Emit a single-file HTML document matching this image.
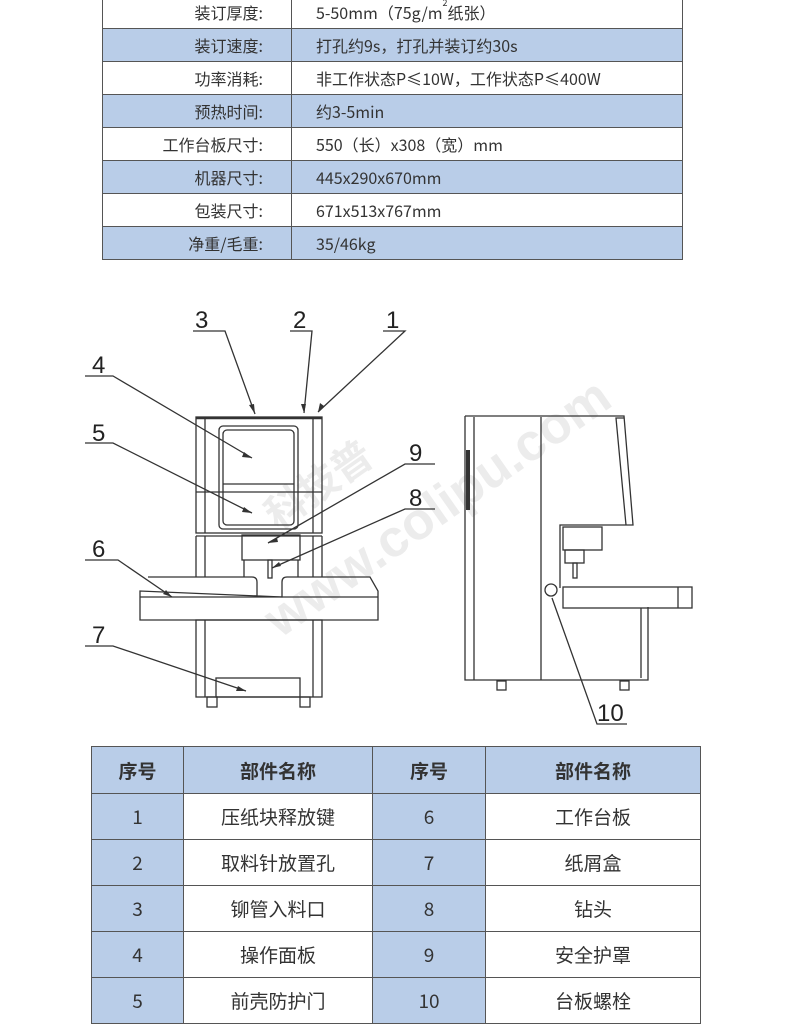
<!DOCTYPE html>
<html><head><meta charset="utf-8"><style>
body{margin:0;width:790px;height:1000px;overflow:hidden;background:#fff;position:relative;font-family:"Noto Sans CJK SC","Liberation Sans",sans-serif;color:#333}
.t{position:absolute;border-collapse:collapse;table-layout:fixed}
.t td{border:1px solid #555;padding:0;line-height:1}
.top td{font-size:16px;height:32px}
.top td.l{text-align:right;padding-right:28px;width:160px}
.top td.r{padding-left:24px}
.b{background:#b9cde8}
.bot td{font-size:19px;text-align:center;height:45px}
sup{font-size:9px;line-height:0;position:relative;top:-1px;vertical-align:top}
svg{position:absolute;left:0;top:0}
</style></head><body>
<table class="t top" style="left:102px;top:-5px;width:581px">
<tr><td class="l">装订厚度:</td><td class="r">5-50mm（75g/m<sup>2</sup>纸张）</td></tr>
<tr class="b"><td class="l">装订速度:</td><td class="r">打孔约9s，打孔并装订约30s</td></tr>
<tr><td class="l">功率消耗:</td><td class="r">非工作状态P≤10W，工作状态P≤400W</td></tr>
<tr class="b"><td class="l">预热时间:</td><td class="r">约3-5min</td></tr>
<tr><td class="l">工作台板尺寸:</td><td class="r">550（长）x308（宽）mm</td></tr>
<tr class="b"><td class="l">机器尺寸:</td><td class="r">445x290x670mm</td></tr>
<tr><td class="l">包装尺寸:</td><td class="r">671x513x767mm</td></tr>
<tr class="b"><td class="l">净重/毛重:</td><td class="r">35/46kg</td></tr>
</table>

<svg width="790" height="1000" viewBox="0 0 790 1000">
<g fill="#ececec" font-family="Liberation Sans,Noto Sans CJK SC,sans-serif" font-weight="bold" transform="rotate(-35 380 520)">
<text x="290" y="470" font-size="40">科技普</text>
<text x="230" y="560" font-size="52">www.colipu.com</text>
</g>
<g fill="none" stroke="#333" stroke-width="1.3">
<rect x="196" y="417" width="126" height="116"/>
<line x1="196" y1="418" x2="322" y2="418" stroke-width="2.5"/>
<line x1="205" y1="418" x2="205" y2="533"/><line x1="313" y1="418" x2="313" y2="533"/>
<rect x="219" y="426" width="79" height="103" rx="4"/>
<rect x="223" y="430" width="71" height="95" rx="4"/>
<line x1="223" y1="484" x2="294" y2="484"/>
<line x1="196" y1="492" x2="322" y2="492"/>
<line x1="196" y1="536" x2="322" y2="536"/>
<line x1="196" y1="536" x2="196" y2="577"/><line x1="322" y1="536" x2="322" y2="577"/>
<line x1="205" y1="536" x2="205" y2="577"/><line x1="313" y1="536" x2="313" y2="577"/>
<rect x="242" y="535" width="58" height="25"/>
<path d="M244 560V577M298 560V577"/>
<rect x="268" y="560" width="4" height="18"/>
<path d="M148 577H252Q257 577 257 582V597M282 597V582Q282 577 287 577H370L378 591V620H140V591Z"/>
<line x1="140" y1="597" x2="378" y2="597"/>
<rect x="196" y="620" width="126" height="77"/>
<line x1="205" y1="620" x2="205" y2="697"/><line x1="313" y1="620" x2="313" y2="697"/>
<rect x="216" y="678" width="84" height="19"/>
<rect x="207" y="697" width="10" height="10"/><rect x="300" y="697" width="10" height="10"/>
<path d="M193 331H225L255 414M290 331H312L304 413M383 331H405L318 412M85 376H113L252 458M85 443H113L252 513M85 560H118L172 597M85 646H113L246 691M435 464H405L268 543M435 509H405L272 568"/>
<path d="M465 416H624L633 525H560V588M465 416V680H648V607M541 417V680M474 417V680"/>
<path d="M624 418L616 418L626 525"/>
<rect x="563" y="527" width="39" height="23"/>
<rect x="565" y="550" width="19" height="13"/>
<rect x="573" y="563" width="4" height="15"/>
<rect x="563" y="587" width="129" height="21"/>
<line x1="678" y1="587" x2="678" y2="608"/>
<line x1="641" y1="608" x2="641" y2="678"/>
<circle cx="551" cy="590" r="6"/>
<rect x="497" y="681" width="9" height="9"/><rect x="620" y="681" width="9" height="9"/>
<path d="M552 598L597 724H627"/>
</g>
<g fill="#333" stroke="none">
<path d="M255 414L249 405L254 404Z M304 413L301 404L306 404Z M318 412L320 403L324 406Z M252 458L242 457L244 452Z M252 513L242 512L244 507Z M172 597L163 594L166 590Z M246 691L236 691L238 686Z M268 543L277 538L278 542Z M272 568L279 562L281 566Z"/>
<rect x="466" y="450" width="4" height="60"/>
</g>
<g font-family="Liberation Sans,sans-serif" font-size="24" fill="#222">
<text x="195" y="328">3</text><text x="293" y="328">2</text><text x="386" y="328">1</text>
<text x="92" y="373">4</text><text x="92" y="441">5</text><text x="92" y="557">6</text>
<text x="92" y="643">7</text><text x="409" y="461">9</text><text x="409" y="506">8</text>
<text x="597" y="721">10</text>
</g>
</svg>

<table class="t bot" style="left:91px;top:746px;width:610px">
<tr class="b"><td style="width:91px;height:46px"><b>序号</b></td><td style="width:188px"><b>部件名称</b></td><td style="width:112px"><b>序号</b></td><td><b>部件名称</b></td></tr>
<tr><td class="b">1</td><td>压纸块释放键</td><td class="b">6</td><td>工作台板</td></tr>
<tr><td class="b">2</td><td>取料针放置孔</td><td class="b">7</td><td>纸屑盒</td></tr>
<tr><td class="b">3</td><td>铆管入料口</td><td class="b">8</td><td>钻头</td></tr>
<tr><td class="b">4</td><td>操作面板</td><td class="b">9</td><td>安全护罩</td></tr>
<tr><td class="b">5</td><td>前壳防护门</td><td class="b">10</td><td>台板螺栓</td></tr>
</table>
</body></html>
